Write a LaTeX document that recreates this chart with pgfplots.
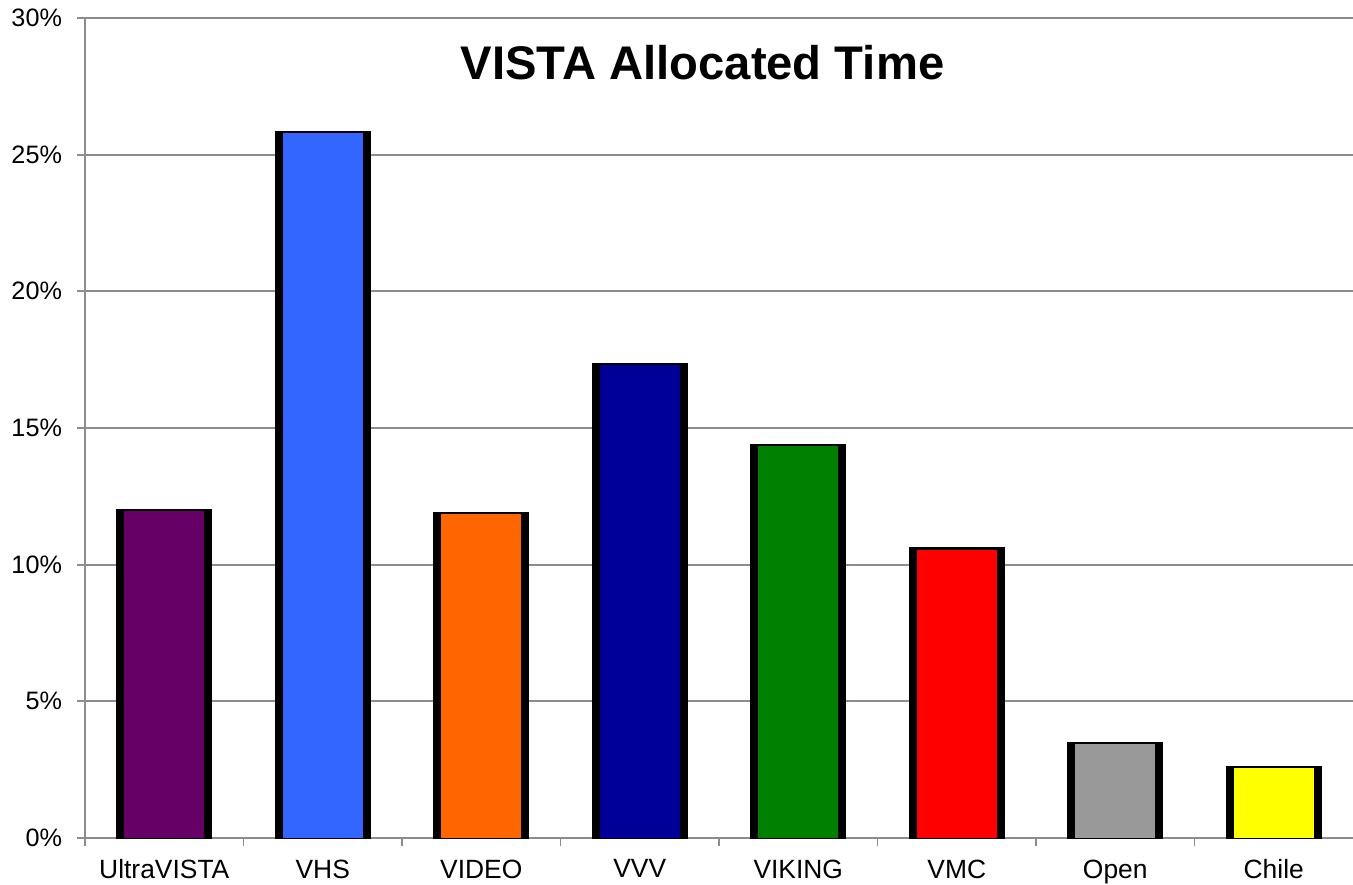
\documentclass[border=0pt]{standalone}
\usepackage{pgfplots}
\pgfplotsset{compat=1.18}
\usepackage{fontspec}
\setmainfont{Liberation Sans}
\definecolor{cPurple}{HTML}{660066}
\definecolor{cBlue}{HTML}{3366FF}
\definecolor{cOrange}{HTML}{FF6600}
\definecolor{cNavy}{HTML}{000099}
\definecolor{cGreen}{HTML}{008000}
\definecolor{cRed}{HTML}{FF0000}
\definecolor{cGray}{HTML}{999999}
\definecolor{cYellow}{HTML}{FFFF00}
\definecolor{gridgray}{HTML}{8C8C8C}
\begin{document}
\begin{tikzpicture}
\begin{axis}[
  scale only axis,
  width=634pt, height=410pt,
  xmin=-0.5, xmax=7.5,
  ymin=0, ymax=30,
  axis lines=left,
  axis line style={-, gridgray, line width=0.9pt},
  y axis line style={shorten <=-4pt},
  xtick={0.5,1.5,2.5,3.5,4.5,5.5,6.5},
  xticklabels={},
  x tick style={gridgray, line width=0.9pt},
  extra x ticks={0,1,2,3,4,5,6,7},
  extra x tick labels={UltraVISTA,VHS,VIDEO,VVV,VIKING,VMC,Open,Chile},
  extra x tick style={major tick length=0pt, grid=none, xticklabel style={yshift=-7.3pt, font=\fontsize{13.2}{15}\selectfont}},
  ytick={0,5,10,15,20,25,30},
  yticklabel={\pgfmathprintnumber{\tick}\%},
  ymajorgrids,
  grid style={gridgray, line width=0.9pt},
  y tick style={gridgray, line width=0.9pt},
  major tick length=4pt,
  tick align=outside,
  /pgf/number format/assume math mode=true,
  ticklabel style={font=\fontsize{12.6}{15}\selectfont, text=black},
  yticklabel style={xshift=-4pt},
  ybar, bar shift=0pt,
  clip=false,
]
\addplot[fill=black, draw=black, line width=0.8pt, bar width=47pt] coordinates {(0,12.0) (1,25.85) (2,11.9) (3,17.35) (4,14.4) (5,10.6) (6,3.5) (7,2.6)};
\addplot[fill=cPurple, draw=none, bar width=40pt] coordinates {(0,11.95)};
\addplot[fill=cBlue, draw=none, bar width=40pt] coordinates {(1,25.8)};
\addplot[fill=cOrange, draw=none, bar width=40pt] coordinates {(2,11.85)};
\addplot[fill=cNavy, draw=none, bar width=40pt] coordinates {(3,17.3)};
\addplot[fill=cGreen, draw=none, bar width=40pt] coordinates {(4,14.35)};
\addplot[fill=cRed, draw=none, bar width=40pt] coordinates {(5,10.55)};
\addplot[fill=cGray, draw=none, bar width=40pt] coordinates {(6,3.45)};
\addplot[fill=cYellow, draw=none, bar width=40pt] coordinates {(7,2.55)};
\node[font=\bfseries\fontsize{23.6}{28}\selectfont, anchor=north] at (rel axis cs:0.487,0.975) {VISTA Allocated Time};
\coordinate (bl) at (rel axis cs:0,0);
\coordinate (tr) at (rel axis cs:1,1);
\end{axis}
\pgfresetboundingbox
\path[use as bounding box] ([shift={(-42.5pt,-23.5pt)}]bl) rectangle ([shift={(0pt,9pt)}]tr);
\end{tikzpicture}
\end{document}
